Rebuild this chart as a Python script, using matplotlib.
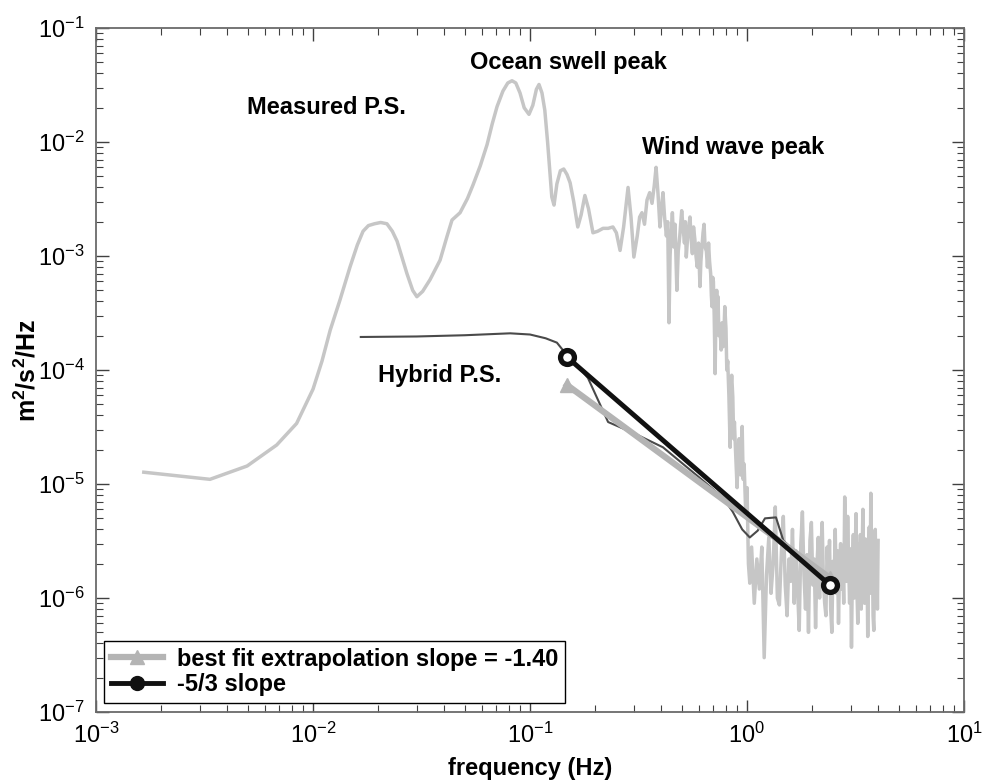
import matplotlib
matplotlib.use("Agg")
import matplotlib.pyplot as plt
import numpy as np
from matplotlib.lines import Line2D

plt.rcParams["font.family"] = ["Liberation Sans", "DejaVu Sans"]
plt.rcParams["mathtext.fontset"] = "custom"
plt.rcParams["mathtext.rm"] = "Liberation Sans"
plt.rcParams["mathtext.bf"] = "Liberation Sans:bold"

# Measured power spectrum: smooth low-frequency part (Hz, m^2/s^2/Hz)
smooth_freq = [0.00166, 0.00335, 0.00497, 0.0068, 0.0084, 0.0100, 0.0110, 0.0120, 0.0133, 0.0148,
               0.0160, 0.0170, 0.0180, 0.0192, 0.0205, 0.0219, 0.0232, 0.0244, 0.0258, 0.0271,
               0.0288, 0.0301, 0.0320, 0.0346, 0.0385, 0.0415, 0.0437, 0.0476, 0.0515, 0.0546,
               0.0590, 0.0634, 0.0670, 0.0705, 0.0750, 0.0790, 0.0826, 0.0860, 0.0899, 0.0940,
               0.0989, 0.1030, 0.1070, 0.1100, 0.1135, 0.117, 0.1205, 0.1236, 0.1260, 0.1290,
               0.1330, 0.1380, 0.1430, 0.1480, 0.153, 0.159, 0.166, 0.172, 0.179, 0.186,
               0.195, 0.205, 0.217, 0.229, 0.241, 0.250, 0.260, 0.270, 0.283, 0.292,
               0.301, 0.312, 0.320, 0.328, 0.337, 0.346, 0.356, 0.365, 0.374, 0.381,
               0.389, 0.397]
smooth_psd = [1.27e-5, 1.1e-5, 1.44e-5, 2.2e-5, 3.4e-5, 6.8e-5, 1.2e-4, 2.24e-4, 4.1e-4, 8.0e-4,
              1.25e-3, 1.65e-3, 1.85e-3, 1.92e-3, 1.97e-3, 1.92e-3, 1.65e-3, 1.35e-3, 9.5e-4, 7.0e-4,
              5.0e-4, 4.4e-4, 4.9e-4, 6.2e-4, 9.2e-4, 1.5e-3, 2.07e-3, 2.4e-3, 3.2e-3, 4.2e-3,
              6.2e-3, 9.5e-3, 1.45e-2, 2.05e-2, 2.8e-2, 3.3e-2, 3.45e-2, 3.3e-2, 2.7e-2, 2.0e-2,
              1.75e-2, 2.1e-2, 2.9e-2, 3.2e-2, 2.7e-2, 1.9e-2, 1.0e-2, 5.4e-3, 3.3e-3, 2.8e-3,
              4.3e-3, 5.6e-3, 5.8e-3, 5.2e-3, 4.4e-3, 3.0e-3, 1.8e-3, 2.3e-3, 3.4e-3, 2.6e-3,
              1.6e-3, 1.65e-3, 1.75e-3, 1.75e-3, 1.8e-3, 1.6e-3, 1.12e-3, 1.8e-3, 4.0e-3, 2.2e-3,
              9.8e-4, 1.5e-3, 2.2e-3, 2.4e-3, 1.9e-3, 3.1e-3, 3.6e-3, 2.9e-3, 4.2e-3, 6.0e-3,
              3.5e-3, 1.8e-3]

# Wind-wave band and roll-off
wind_freq = [0.403, 0.41, 0.417, 0.425, 0.431, 0.437, 0.442, 0.447, 0.453, 0.46,
             0.466, 0.475, 0.482, 0.49, 0.50, 0.507, 0.515, 0.52, 0.525, 0.533,
             0.546, 0.553, 0.56, 0.567, 0.575, 0.582, 0.59, 0.598, 0.607, 0.613,
             0.62, 0.627, 0.634, 0.641, 0.65, 0.657, 0.665, 0.672, 0.68, 0.685,
             0.69, 0.695, 0.70, 0.706, 0.713, 0.719, 0.725, 0.73, 0.735, 0.742,
             0.75, 0.76, 0.768, 0.775, 0.782, 0.79, 0.80, 0.807, 0.815, 0.825,
             0.836, 0.843, 0.85, 0.86, 0.868, 0.875, 0.885, 0.90, 0.91, 0.92,
             0.935, 0.95, 0.96, 0.97, 0.985, 1.00, 1.015, 1.03]
wind_psd = [2.6e-3, 3.6e-3, 2.2e-3, 1.5e-3, 2.0e-3, 2.6e-4, 1.0e-3, 1.6e-3, 2.4e-3, 1.2e-3,
            1.9e-3, 5e-4, 1.1e-3, 1.5e-3, 2.5e-3, 1.8e-3, 1.3e-3, 2.0e-3, 9.8e-4, 1.5e-3,
            2.2e-3, 1.4e-3, 1.05e-3, 1.8e-3, 1.4e-3, 1.0e-3, 8e-4, 1.3e-3, 5.4e-4, 9e-4,
            1.2e-3, 1.6e-3, 1.9e-3, 1.2e-3, 1.1e-3, 8e-4, 1.3e-3, 9e-4, 7e-4, 4.5e-4,
            3.6e-4, 6.5e-4, 6e-4, 3.0e-4, 9.3e-5, 3.2e-4, 5e-4, 3.0e-4, 4.4e-4, 2.0e-4,
            2.5e-4, 1.5e-4, 2.6e-4, 1.6e-4, 2.0e-4, 3.6e-4, 2.3e-4, 1.0e-4, 1.2e-4, 6e-5,
            2.1e-5, 7e-5, 9e-5, 5.8e-5, 2.5e-5, 3.5e-5, 2.0e-5, 9.3e-6, 1.8e-5, 2.5e-5,
            1.2e-5, 3.2e-5, 1.1e-5, 1.5e-5, 6e-6, 9.3e-6, 2e-6, 1.35e-6]

# High-frequency noise floor (psd in units of 1e-6 m^2/s^2/Hz)
noise_freq = [1.05, 1.08, 1.11, 1.14, 1.17, 1.20, 1.23, 1.26, 1.29, 1.32,
              1.35, 1.38, 1.41, 1.44, 1.47, 1.50, 1.53, 1.56, 1.59, 1.62,
              1.65, 1.68, 1.71, 1.74, 1.77, 1.80, 1.83, 1.86, 1.89, 1.92,
              1.95, 1.98, 2.01, 2.04, 2.07, 2.10, 2.13, 2.16, 2.19, 2.22,
              2.25, 2.28, 2.31, 2.34, 2.37, 2.40, 2.43, 2.46, 2.49, 2.52,
              2.55, 2.58, 2.61, 2.64, 2.67, 2.70, 2.73, 2.76, 2.79, 2.82,
              2.85, 2.88, 2.91, 2.94, 2.97, 3.00, 3.03, 3.06, 3.09, 3.12,
              3.15, 3.18, 3.21, 3.24, 3.27, 3.30, 3.33, 3.36, 3.39, 3.42,
              3.45, 3.48, 3.51, 3.54, 3.57, 3.60, 3.63, 3.66, 3.69, 3.72,
              3.75, 3.78, 3.81, 3.84, 3.87, 3.90, 3.93, 3.96, 3.99, 4.02]
noise_psd_e6 = [2.8, 0.9, 2.2, 1.2, 2.8, 0.3, 1.6, 3.4, 1.1, 2.0,
                6.3, 1.0, 0.87, 2.5, 5.2, 1.3, 0.7, 2.2, 1.4, 4.0,
                0.9, 2.6, 1.2, 0.52, 3.0, 5.7, 1.6, 0.8, 2.4, 0.5,
                3.2, 4.6, 1.3, 2.2, 0.55, 1.9, 3.4, 1.0, 2.6, 4.6,
                1.4, 0.9, 0.7, 2.8, 1.5, 3.2, 0.8, 0.5, 2.1, 1.3,
                4.0, 1.1, 2.6, 0.6, 1.8, 3.0, 1.2, 2.2, 0.9, 7.7,
                3.1, 1.4, 5.2, 2.0, 0.9, 2.7, 0.37, 1.8, 3.6, 1.0,
                2.4, 5.5, 1.2, 0.6, 3.0, 1.5, 3.6, 0.8, 2.2, 6.0,
                1.7, 0.9, 3.3, 1.3, 2.5, 0.46, 2.0, 4.2, 1.1, 8.3,
                1.5, 3.0, 0.7, 0.52, 2.6, 4.0, 1.2, 2.8, 0.8, 3.2]

# Hybrid power spectrum
hybrid_freq = [0.0166, 0.03, 0.05, 0.081, 0.100, 0.118, 0.133, 0.148, 0.165, 0.185,
               0.229, 0.30, 0.41, 0.60, 0.78, 0.86, 0.95, 1.03, 1.12, 1.21,
               1.36, 1.47, 1.8, 2.4]
hybrid_psd = [1.95e-4, 1.97e-4, 2.02e-4, 2.1e-4, 2.05e-4, 1.9e-4, 1.74e-4, 1.35e-4, 1.1e-4, 8.5e-5,
              3.5e-5, 2.8e-5, 2.1e-5, 1.15e-5, 7.5e-6, 5.7e-6, 4.0e-6, 3.4e-6, 3.9e-6, 5.0e-6,
              5.1e-6, 3.2e-6, 2.2e-6, 1.4e-6]

# Slope lines (end points)
fit_freq = [0.148, 2.41]
fit_psd = [7.4e-5, 1.5e-6]
k53_freq = [0.148, 2.41]
k53_psd = [1.3e-4, 1.3e-6]

measured_freq = np.array(smooth_freq + wind_freq + noise_freq)
measured_psd = np.concatenate([smooth_psd, wind_psd, np.array(noise_psd_e6) * 1e-6])

fig = plt.figure(figsize=(9.87, 7.84), dpi=100)
ax = fig.add_axes([0.0973, 0.0918, 0.8794, 0.8724])

ax.plot(measured_freq, measured_psd, color="#c6c6c6", lw=2.5, zorder=2)
ax.plot(hybrid_freq, hybrid_psd, color="#4a4a4a", lw=1.5, zorder=3)
ax.plot(fit_freq, fit_psd, color="#b4b4b4", lw=4.5, marker="^", ms=10,
        mfc="#b4b4b4", mec="#b4b4b4", zorder=4)
ax.plot(k53_freq, k53_psd, color="#111111", lw=3.5, marker="o", ms=10,
        mfc="white", mec="#111111", mew=3.8, zorder=5)

ax.set_xscale("log")
ax.set_yscale("log")
ax.set_xlim(1e-3, 1e1)
ax.set_ylim(1e-7, 1e-1)

for s in ax.spines.values():
    s.set_color("#6a6a6a")
    s.set_linewidth(1.3)
ax.tick_params(which="both", direction="in", top=True, right=True, colors="#404040",
               labelcolor="black", labelsize=17)
ax.tick_params(which="major", length=9, width=1.0, pad=8)
ax.tick_params(which="minor", length=5, width=0.8)

ax.set_xlabel("frequency (Hz)", fontsize=17, fontweight="bold")
ax.xaxis.set_label_coords(0.5, -0.066)
ax.set_ylabel(r"$\mathbf{m^2/s^2/Hz}$", fontsize=18)
ax.yaxis.set_label_coords(-0.064, 0.5)

text_kw = dict(fontsize=17, fontweight="bold", ha="left", va="center")
ax.text(4.97e-3, 2.03e-2, "Measured P.S.", **text_kw)
ax.text(0.053, 5.0e-2, "Ocean swell peak", **text_kw)
ax.text(0.328, 9.0e-3, "Wind wave peak", **text_kw)
ax.text(0.020, 8.9e-5, "Hybrid P.S.", **text_kw)

handles = [
    Line2D([], [], color="#b4b4b4", lw=4.5, marker="^", ms=10, mfc="#b4b4b4", mec="#b4b4b4"),
    Line2D([], [], color="#111111", lw=3.5, marker="o", ms=10, mfc="#111111", mec="#111111"),
]
leg = ax.legend(handles, ["best fit extrapolation slope = -1.40", "-5/3 slope"],
                loc="lower left", bbox_to_anchor=(0.009, 0.013), fancybox=False,
                framealpha=1, edgecolor="black", borderpad=0.3, labelspacing=0.1,
                handlelength=2.2, handletextpad=0.6, borderaxespad=0,
                prop=dict(size=17, weight="bold"))
leg.get_frame().set_linewidth(1.0)

fig.savefig("out.png", dpi=100)
